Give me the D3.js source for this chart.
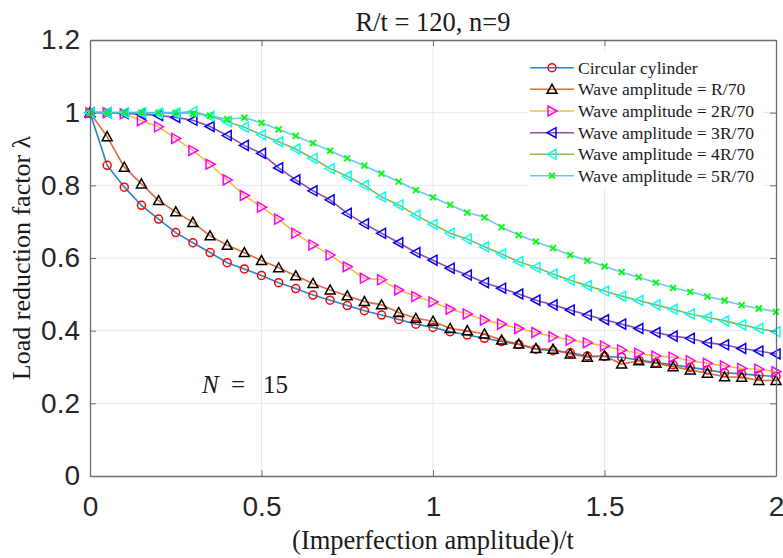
<!DOCTYPE html>
<html>
<head>
<meta charset="utf-8">
<script src="https://cdn.jsdelivr.net/npm/d3@7"></script>
<style>
  html, body { margin: 0; padding: 0; background: #fff; }
  svg { display: block; }
</style>
</head>
<body>
<svg id="chart" width="783" height="558"></svg>
<script>
// ---------------- data ----------------
const xValues = d3.range(41).map(i => +(i * 0.05).toFixed(2));

const circular = [1, 0.855, 0.795, 0.745, 0.707, 0.670, 0.642, 0.615, 0.587, 0.570,
  0.552, 0.532, 0.516, 0.498, 0.484, 0.469, 0.455, 0.443, 0.431, 0.418,
  0.409, 0.397, 0.388, 0.379, 0.370, 0.362, 0.349, 0.345, 0.339, 0.330,
  0.329, 0.327, 0.319, 0.312, 0.306, 0.299, 0.292, 0.284, 0.281, 0.277, 0.274];

const waveR70 = [1, 0.934, 0.850, 0.804, 0.758, 0.727, 0.698, 0.661, 0.635, 0.615,
  0.593, 0.573, 0.551, 0.530, 0.512, 0.496, 0.480, 0.471, 0.450, 0.434,
  0.426, 0.406, 0.400, 0.391, 0.374, 0.363, 0.351, 0.349, 0.336, 0.327,
  0.331, 0.308, 0.317, 0.310, 0.301, 0.292, 0.283, 0.273, 0.272, 0.263, 0.263];

const wave2R70 = [1, 1, 0.997, 0.978, 0.961, 0.929, 0.896, 0.858, 0.815, 0.772,
  0.740, 0.707, 0.668, 0.636, 0.608, 0.576, 0.544, 0.540, 0.512, 0.494,
  0.479, 0.459, 0.446, 0.429, 0.418, 0.406, 0.395, 0.383, 0.374, 0.367,
  0.358, 0.347, 0.338, 0.330, 0.327, 0.317, 0.310, 0.303, 0.296, 0.294, 0.287];

const wave3R70 = [1, 1, 0.998, 0.996, 0.992, 0.987, 0.979, 0.962, 0.937, 0.910,
  0.888, 0.848, 0.815, 0.785, 0.760, 0.723, 0.694, 0.668, 0.642, 0.615,
  0.594, 0.572, 0.553, 0.532, 0.517, 0.501, 0.484, 0.471, 0.457, 0.443,
  0.430, 0.418, 0.406, 0.395, 0.385, 0.379, 0.367, 0.361, 0.351, 0.344, 0.336];

const wave4R70 = [1, 1, 1, 1, 0.999, 0.999, 1.003, 0.990, 0.975, 0.960,
  0.939, 0.920, 0.900, 0.874, 0.846, 0.825, 0.800, 0.768, 0.746, 0.718,
  0.693, 0.668, 0.652, 0.631, 0.611, 0.590, 0.574, 0.556, 0.539, 0.524,
  0.509, 0.495, 0.483, 0.471, 0.459, 0.446, 0.437, 0.427, 0.416, 0.406, 0.397];

const wave5R70 = [1, 1, 1, 1, 1, 1, 0.997, 0.992, 0.982, 0.986,
  0.972, 0.954, 0.936, 0.916, 0.895, 0.874, 0.854, 0.832, 0.810, 0.787,
  0.767, 0.746, 0.725, 0.712, 0.685, 0.663, 0.645, 0.627, 0.608, 0.593,
  0.577, 0.561, 0.547, 0.532, 0.518, 0.507, 0.494, 0.483, 0.470, 0.461, 0.452];

const seriesNames = ["Circular cylinder", "Wave amplitude = R/70", "Wave amplitude = 2R/70",
  "Wave amplitude = 3R/70", "Wave amplitude = 4R/70", "Wave amplitude = 5R/70"];
const seriesValues = [circular, waveR70, wave2R70, wave3R70, wave4R70, wave5R70];
const lineColors = ["#0072BD", "#D95319", "#EDB120", "#7E2F8E", "#77AC30", "#4DBEEE"];
const markerColors = ["#ff0000", "#000000", "#ff00ff", "#0000ff", "#00ffff", "#00ff00"];
const markerTypes = ["circle", "triUp", "triRight", "triLeft", "triLeft", "cross"];

const xTicks = [0, 0.5, 1, 1.5, 2];
const xTickLabels = ["0", "0.5", "1", "1.5", "2"];
const yTicks = [0, 0.2, 0.4, 0.6, 0.8, 1, 1.2];
const yTickLabels = ["0", "0.2", "0.4", "0.6", "0.8", "1", "1.2"];

const titleText = "R/t = 120, n=9";
const xLabelText = "(Imperfection amplitude)/t";
const yLabelText = "Load reduction factor λ";

// ---------------- layout ----------------
const L = 90, R = 776, T = 40, B = 476;
const svg = d3.select("#chart");
const x = d3.scaleLinear().domain([0, 2]).range([L, R]);
const y = d3.scaleLinear().domain([0, 1.2]).range([B, T]);

// grid
const grid = svg.append("g");
grid.selectAll("line.gx").data(xTicks.slice(1, -1)).join("line")
  .attr("x1", d => x(d)).attr("x2", d => x(d)).attr("y1", T).attr("y2", B)
  .attr("stroke", "#e8e8e8").attr("stroke-width", 1);
grid.selectAll("line.gy").data(yTicks.slice(1, -1)).join("line")
  .attr("y1", d => y(d)).attr("y2", d => y(d)).attr("x1", L).attr("x2", R)
  .attr("stroke", "#e8e8e8").attr("stroke-width", 1);

// series
const symbolPath = (type) => {
  const s = 5;
  switch (type) {
    case "triUp": return `M0,${-s} L${s},${s*0.8} L${-s},${s*0.8} Z`;
    case "triRight": return `M${s},0 L${-s*0.8},${-s} L${-s*0.8},${s} Z`;
    case "triLeft": return `M${-s},0 L${s*0.8},${-s} L${s*0.8},${s} Z`;
    case "cross": return `M-3,-3 L3,3 M-3,3 L3,-3`;
  }
  return "";
};
function drawMarker(g, type, color) {
  if (type === "circle") {
    g.append("circle").attr("r", 4).attr("fill", "none").attr("stroke", color).attr("stroke-width", 1.5);
  } else {
    g.append("path").attr("d", symbolPath(type)).attr("fill", "none")
      .attr("stroke", color).attr("stroke-width", type === "cross" ? 1.8 : 1.5)
      .attr("stroke-linejoin", "miter");
  }
}

const line = d3.line().x(d => x(d[0])).y(d => y(d[1]));
seriesValues.forEach((vals, i) => {
  const pts = xValues.map((xv, j) => [xv, vals[j]]);
  const g = svg.append("g");
  g.append("path").datum(pts).attr("d", line).attr("fill", "none")
    .attr("stroke", lineColors[i]).attr("stroke-width", 1.6).attr("stroke-opacity", 0.85);
  pts.forEach(p => {
    const m = g.append("g").attr("transform", `translate(${x(p[0])},${y(p[1])})`);
    drawMarker(m, markerTypes[i], markerColors[i]);
  });
});

// axes box
const axisColor = "#6e6e6e";
const xAxis = d3.axisBottom(x).tickValues(xTicks).tickFormat((d, i) => xTickLabels[i])
  .tickSizeInner(-6).tickSizeOuter(0).tickPadding(20);
const gx = svg.append("g").attr("transform", `translate(0,${B})`).call(xAxis);
const yAxis = d3.axisLeft(y).tickValues(yTicks).tickFormat((d, i) => yTickLabels[i])
  .tickSizeInner(-6).tickSizeOuter(0).tickPadding(10);
const gy = svg.append("g").attr("transform", `translate(${L},0)`).call(yAxis);
[gx, gy].forEach(g => {
  g.select(".domain").attr("stroke", axisColor).attr("stroke-width", 1.3);
  g.selectAll(".tick line").attr("stroke", axisColor);
  g.selectAll(".tick text").attr("font-family", "'Liberation Sans', Arial, sans-serif")
    .attr("font-size", 28).attr("fill", "#262626");
});
// top and right axes
const gt = svg.append("g").attr("transform", `translate(0,${T})`)
  .call(d3.axisTop(x).tickValues(xTicks).tickFormat("").tickSizeInner(-6).tickSizeOuter(0));
const gr = svg.append("g").attr("transform", `translate(${R},0)`)
  .call(d3.axisRight(y).tickValues(yTicks).tickFormat("").tickSizeInner(-6).tickSizeOuter(0));
[gt, gr].forEach(g => {
  g.select(".domain").attr("stroke", axisColor).attr("stroke-width", 1.3);
  g.selectAll(".tick line").attr("stroke", axisColor);
});

// legend
const legX = 527, legY = 52, legW = 236, legH = 136;
const leg = svg.append("g");
leg.append("rect").attr("x", legX).attr("y", legY).attr("width", legW).attr("height", legH)
  .attr("fill", "#fff").attr("stroke", "none");
const rowY = [67.7, 89.3, 111, 132.7, 154.3, 175.7];
seriesNames.forEach((name, i) => {
  const row = leg.append("g").attr("transform", `translate(0,${rowY[i]})`);
  row.append("line").attr("x1", 530).attr("x2", 574).attr("y1", 0).attr("y2", 0)
    .attr("stroke", lineColors[i]).attr("stroke-width", 1.6).attr("stroke-opacity", 0.85);
  const m = row.append("g").attr("transform", "translate(552,0)");
  drawMarker(m, markerTypes[i], markerColors[i]);
  row.append("text").attr("x", 578).attr("y", 0).attr("dy", "0.33em")
    .attr("font-family", "'Liberation Serif', 'Times New Roman', serif")
    .attr("font-size", 17.6).attr("fill", "#1a1a1a").text(name);
});

// title and labels
const serif = "'Liberation Serif', 'Times New Roman', serif";
svg.append("text").attr("x", (L + R) / 2).attr("y", 31).attr("text-anchor", "middle")
  .attr("font-family", serif).attr("font-size", 26.5).attr("fill", "#1a1a1a").text(titleText);
svg.append("text").attr("x", 433).attr("y", 549).attr("text-anchor", "middle")
  .attr("font-family", serif).attr("font-size", 26.5).attr("fill", "#1a1a1a").text(xLabelText);
svg.append("text").attr("transform", `translate(30,${(T + B) / 2}) rotate(-90)`)
  .attr("text-anchor", "middle").attr("font-family", serif).attr("font-size", 26)
  .attr("fill", "#1a1a1a").text(yLabelText);

// annotation
const ann = svg.append("g").attr("font-family", serif).attr("font-size", 25).attr("fill", "#1a1a1a");
ann.append("text").attr("x", 202).attr("y", 393).attr("font-style", "italic").text("N");
ann.append("text").attr("x", 231).attr("y", 393).text("=");
ann.append("text").attr("x", 263).attr("y", 393).text("15");
</script>
</body>
</html>
